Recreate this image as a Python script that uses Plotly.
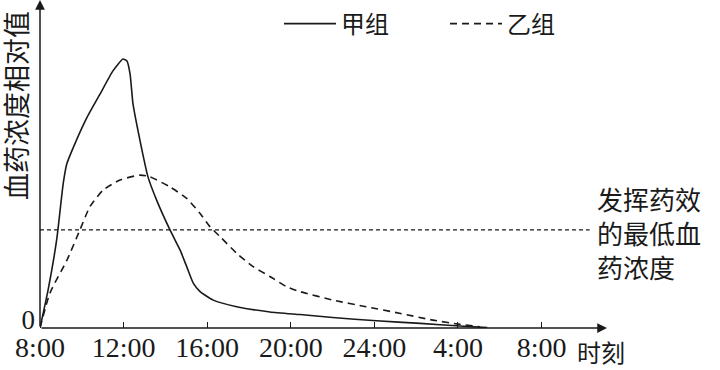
import plotly.graph_objects as go

# hours after 8:00 (day 1)
jia_h = [0, 0.4, 0.8, 1.11, 1.28, 1.59, 2.23, 2.87, 3.49, 3.97, 4.16, 4.31, 4.45, 4.78,
         5.17, 5.58, 6.22, 6.70, 7.02, 7.34, 7.66, 8.29, 9.41, 11.0, 12.44, 14.0, 16.1,
         18.2, 20.1, 21.4]
jia_v = [0, 12, 27, 44, 50, 55, 64, 71.3, 78.4, 82, 81.4, 77.4, 68.3, 57.3,
         46, 39, 29.9, 23.8, 18.7, 13.6, 11.1, 8.5, 6.5, 4.9, 4.1, 3.2, 2.2,
         1.4, 0.6, 0.1]

yi_h = [0, 0.48, 1.29, 1.91, 2.39, 3.03, 3.83, 4.78, 5.26, 6.22, 7.02, 7.66, 8.13, 8.61,
        9.41, 10.2, 11.0, 11.8, 12.44, 14.03, 15.6, 17.2, 18.8, 20.1, 21.05]
yi_v = [0, 10.7, 20.7, 29.9, 37, 42.1, 45.1, 46.6, 46.1, 43, 39.5, 34.9, 30.9, 27.9,
        22.8, 18.7, 15.7, 12.6, 11.1, 8.5, 6.5, 4.5, 2.4, 1.1, 0.4]

threshold_h = [0, 26.3]
threshold_v = [29.9, 29.9]

tick_vals = [0, 4, 8, 12, 16, 20, 24]
tick_text = ["8:00", "12:00", "16:00", "20:00", "24:00", "4:00", "8:00"]

series_names = ["甲组", "乙组"]
y_title = "血药浓度相对值"
x_title = "时刻"
note_lines = ["发挥药效", "的最低血", "药浓度"]

X_MAX = 27.13
Y_MAX = 100

CJK = "Noto Sans CJK SC"
SERIF = "Liberation Serif"
INK = "#1a1a1a"

fig = go.Figure()
fig.add_trace(go.Scatter(x=jia_h, y=jia_v, mode="lines", name=series_names[0],
                         line=dict(color=INK, width=1.6, shape="spline", smoothing=0.5)))
fig.add_trace(go.Scatter(x=yi_h, y=yi_v, mode="lines", name=series_names[1],
                         line=dict(color=INK, width=1.6, dash="7px,5px", shape="spline", smoothing=0.6)))
fig.add_trace(go.Scatter(x=threshold_h, y=threshold_v, mode="lines", showlegend=False,
                         line=dict(color=INK, width=1.2, dash="4px,3px")))

# axis arrows
fig.add_annotation(x=X_MAX, y=0, ax=0, ay=0, xref="x", yref="y", axref="x", ayref="y",
                   text="", showarrow=True, arrowhead=2, arrowsize=1.3, arrowwidth=1.5,
                   arrowcolor=INK, standoff=0)
fig.add_annotation(x=0, y=Y_MAX, ax=0, ay=0, xref="x", yref="y", axref="x", ayref="y",
                   text="", showarrow=True, arrowhead=2, arrowsize=1.3, arrowwidth=1.5,
                   arrowcolor=INK, standoff=0)

# y title
fig.add_annotation(x=(15 - 40) / 567, y=1 - 106 / 328, xref="paper", yref="paper", text=y_title,
                   textangle=-90, showarrow=False, xanchor="center", yanchor="middle",
                   font=dict(family=CJK, size=27, color=INK))
# x title
fig.add_annotation(x=0.9436, y=1 - 351 / 328, xref="paper", yref="paper", text=x_title,
                   showarrow=False, xanchor="left", yanchor="middle",
                   font=dict(family=CJK, size=24, color=INK))
# threshold note
fig.add_annotation(x=(595 - 40) / 567, y=1 - 232 / 328, xref="paper", yref="paper",
                   text="<br>".join(note_lines), align="left",
                   showarrow=False, xanchor="left", yanchor="middle",
                   font=dict(family=CJK, size=26, color=INK))

fig.update_layout(
    width=720, height=370,
    margin=dict(l=40, r=113, t=0, b=42),
    paper_bgcolor="white", plot_bgcolor="white",
    showlegend=True,
    legend=dict(orientation="h", x=(279 - 40) / 567, y=1 - 24 / 328,
                xanchor="left", yanchor="middle",
                font=dict(family=CJK, size=24, color=INK),
                itemwidth=52,
                entrywidth=99, entrywidthmode="pixels",
                bgcolor="rgba(0,0,0,0)", borderwidth=0),
    xaxis=dict(range=[0, X_MAX], showgrid=False, zeroline=False, showline=False,
               tickvals=tick_vals, ticktext=tick_text, ticks="inside", ticklen=6,
               tickwidth=1.3, tickcolor=INK,
               tickfont=dict(family=SERIF, size=28, color=INK)),
    yaxis=dict(range=[0, Y_MAX], showgrid=False, zeroline=False, showline=False,
               tickvals=[0], ticktext=["0"], ticks="",
               ticklabelshift=-8, ticklabelstandoff=4,
               tickfont=dict(family=SERIF, size=27, color=INK)),
)

fig.write_html("out.html", config={"displayModeBar": False},
               post_script="document.body.style.margin='0';")
